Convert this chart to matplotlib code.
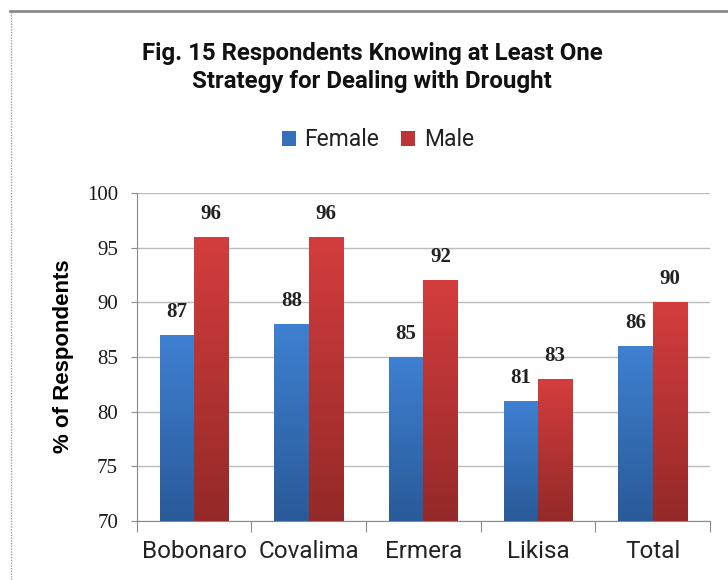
import matplotlib.pyplot as plt
import numpy as np
from matplotlib.colors import LinearSegmentedColormap
from matplotlib.lines import Line2D
from matplotlib.patches import Patch

# data
regions = ['Bobonaro', 'Covalima', 'Ermera', 'Likisa', 'Total']
female = [87, 88, 85, 81, 86]
male = [96, 96, 92, 83, 90]
yticks = [70, 75, 80, 85, 90, 95, 100]

sans = ['Roboto', 'DejaVu Sans']
serif = ['Liberation Serif', 'DejaVu Serif']

blue_cm = LinearSegmentedColormap.from_list('b', ['#2a5a98', '#3e80d2'])
red_cm = LinearSegmentedColormap.from_list('r', ['#952929', '#d43d3d'])

fig = plt.figure(figsize=(7.28, 5.80), dpi=100)
ax = fig.add_axes([0.188, 0.1017, 0.787, 0.5655])

x = np.arange(len(regions))
w = 0.3
grad = np.linspace(0, 1, 100).reshape(-1, 1)

def gradient_bars(xpos, vals, cmap):
    bars = ax.bar(xpos, vals, w, bottom=0, color='none', edgecolor='none', zorder=3)
    for b in bars:
        x0 = b.get_x()
        x1, y1 = x0 + b.get_width(), b.get_height()
        im = ax.imshow(grad, cmap=cmap, origin='lower', aspect='auto',
                       extent=(x0, x1, 70, y1), zorder=3)
        im.set_clip_path(b)
    return bars

gradient_bars(x - w / 2, female, blue_cm)
gradient_bars(x + w / 2, male, red_cm)

for i in range(len(regions)):
    for xp, v in [(x[i] - w / 2, female[i]), (x[i] + w / 2, male[i])]:
        ax.text(xp, v + 1.65, str(v), ha='center', va='baseline',
                fontsize=15, fontweight='bold', family=serif, color='#222222')

ax.set_xlim(-0.5, len(regions) - 0.5)
ax.set_ylim(70, 100)
ax.set_yticks(yticks)
ax.set_yticklabels([str(t) for t in yticks], family=serif, fontsize=15, color='#1a1a1a')
ax.set_xticks(np.arange(len(regions) + 1) - 0.5)
ax.set_xticklabels([])
ax.set_xticks(x, minor=True)
ax.set_xticklabels(regions, minor=True, family=sans, fontsize=17.5, color='#222222')
ax.tick_params(axis='x', which='major', length=8, color='#8a8a8a')
ax.tick_params(axis='x', which='minor', length=0, pad=14)
ax.tick_params(axis='y', length=4.5, color='#8a8a8a', pad=9)

ax.grid(axis='y', color='#bcbcbc', linewidth=1)
ax.set_axisbelow(True)
for s in ['top', 'right']:
    ax.spines[s].set_visible(False)
for s in ['left', 'bottom']:
    ax.spines[s].set_color('#8a8a8a')

ax.set_ylabel('% of Respondents', fontsize=16, fontweight='bold', family='Liberation Sans')
ax.yaxis.set_label_coords(-0.11, 0.503)

fig.text(0.511, 0.884, 'Fig. 15 Respondents Knowing at Least One\nStrategy for Dealing with Drought',
         ha='center', va='center', fontsize=17.3, fontweight='bold', family=sans,
         linespacing=1.25, color='#111111')

handles = [Patch(facecolor='#3570bd', label='Female'), Patch(facecolor='#bf3434', label='Male')]
fig.legend(handles=handles, loc='center', bbox_to_anchor=(0.519, 0.759), ncol=2, frameon=False,
           prop={'family': sans, 'size': 16.5}, handlelength=0.62, handleheight=0.62,
           handletextpad=0.37, columnspacing=0.95, labelcolor='#222222')

# chart border, cropped at right and bottom
fig.add_artist(Line2D([10 / 728, 1], [1 - 11 / 580, 1 - 11 / 580], transform=fig.transFigure,
                      color='#8c8c8c', linewidth=2))
fig.add_artist(Line2D([11 / 728, 11 / 728], [0, 1 - 11 / 580], transform=fig.transFigure,
                      color='#a0a0a0', linewidth=1, linestyle=(0, (1, 1))))

fig.savefig('out.png', dpi=100)
